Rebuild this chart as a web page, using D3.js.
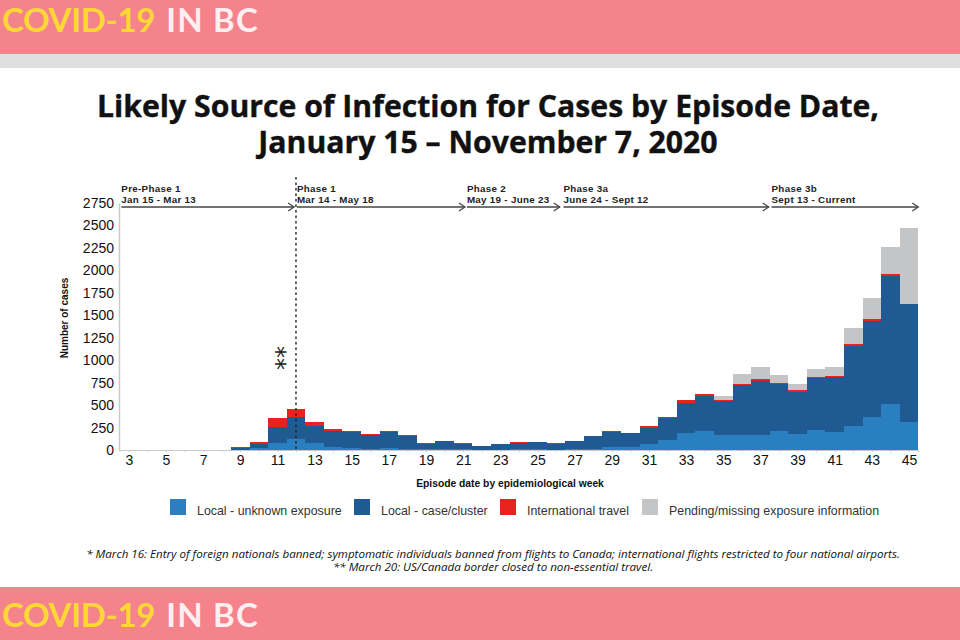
<!DOCTYPE html>
<html>
<head>
<meta charset="utf-8">
<script src="https://cdn.jsdelivr.net/npm/d3@7"></script>
<style>
  html, body { margin: 0; padding: 0; background: #fff; }
  svg { display: block; }
  .axis text { font-family: "Liberation Sans", Arial, sans-serif; font-size: 14px; fill: #111; }
  .axis path, .axis line { stroke: #c9c9c9; }
</style>
</head>
<body>
<script>
// Episode weeks
var weeks = [3,4,5,6,7,8,9,10,11,12,13,14,15,16,17,18,19,20,21,22,23,24,25,26,27,28,29,30,31,32,33,34,35,36,37,38,39,40,41,42,43,44,45];

// Cases per week
var localUnknown = [0,0,1,0,1,0,4,18,74,119,74,37,18,8,18,10,6,8,6,4,5,6,6,5,8,15,30,30,63,111,185,211,167,167,167,211,178,222,204,271,367,508,312];
var localCluster = [0,0,1,0,1,1,14,45,178,245,193,174,186,159,186,150,61,88,57,41,59,76,80,66,92,136,168,155,183,241,334,386,382,556,605,524,471,576,605,890,1069,1433,1309];
var intlTravel = [0,0,1,0,3,1,19,30,100,89,48,26,11,7,11,7,7,8,19,3,3,3,3,3,4,5,10,8,25,12,38,23,11,12,18,15,19,15,15,23,19,14,0];
var pending = [0,0,0,0,0,0,0,0,0,0,0,0,0,0,0,0,0,0,0,0,0,0,0,0,0,0,0,0,0,0,0,0,41,111,130,85,63,89,104,170,233,308,854];

var seriesKeys = ["unknown", "cluster", "travel", "pending"];
var seriesColors = ["#2a7fc1", "#1f5a93", "#e8231f", "#c4c5c7"];
var legendLabels = ["Local - unknown exposure", "Local - case/cluster", "International travel", "Pending/missing exposure information"];

var yTicks = [0,250,500,750,1000,1250,1500,1750,2000,2250,2500,2750];

// Phases, start and end in fractional weeks
var phaseNames = ["Pre-Phase 1", "Phase 1", "Phase 2", "Phase 3a", "Phase 3b"];
var phaseDates = ["Jan 15 - Mar 13", "Mar 14 - May 18", "May 19 - June 23", "June 24 - Sept 12", "Sept 13 - Current"];
var phaseStarts = [2.6, 12.05, 21.2, 26.4, 37.6];
var phaseEnds = [11.9, 21.1, 26.2, 37.45, 45.5];

var titleLines = ["Likely Source of Infection for Cases by Episode Date,", "January 15 \u2013 November 7, 2020"];
var notes = ["* March 16: Entry of foreign nationals banned; symptomatic individuals banned from flights to Canada; international flights restricted to four national airports.",
  "** March 20: US/Canada border closed to non-essential travel."];

var svgWidth = 960;
var svgHeight = 640;

var svg = d3.select("body")
  .append("svg")
  .attr("width", svgWidth)
  .attr("height", svgHeight);

svg.append("rect").attr("width", svgWidth).attr("height", svgHeight).attr("fill", "#fff");

// Banners
svg.append("rect").attr("y", 54).attr("width", svgWidth).attr("height", 14).attr("fill", "#dfdfdf");
[[0, 54, 32], [587, 53, 627]].forEach(function(b) {
  svg.append("rect").attr("y", b[0]).attr("width", svgWidth).attr("height", b[1]).attr("fill", "#f5838c");
  var t = svg.append("text")
    .attr("x", 2)
    .attr("y", b[2])
    .attr("font-family", "Lato, sans-serif")
    .attr("font-weight", 700)
    .attr("font-size", 33)
    .attr("letter-spacing", -0.3);
  t.append("tspan").attr("fill", "#fdd835").text("COVID-19");
  t.append("tspan").attr("fill", "#fdeef0").attr("dx", 11).attr("letter-spacing", 1.2).text("IN BC");
});

// Title
svg.selectAll(".title")
  .data(titleLines)
  .enter()
  .append("text")
  .attr("class", "title")
  .attr("x", 488)
  .attr("y", function(d, i) { return 117 + i * 36; })
  .attr("text-anchor", "middle")
  .attr("font-family", "'Open Sans', sans-serif")
  .attr("font-weight", 700)
  .attr("font-size", 30.2)
  .attr("fill", "#111")
  .attr("stroke", "#111")
  .attr("stroke-width", 0.4)
  .text(function(d) { return d; });

// Scales
var x = d3.scaleLinear().domain([2.5, 45.5]).range([119.5, 918.3]);
var y = d3.scaleLinear().domain([0, 2750]).range([450, 203]);

var table = weeks.map(function(w, i) {
  return { week: w, unknown: localUnknown[i], cluster: localCluster[i], travel: intlTravel[i], pending: pending[i] };
});
var stacked = d3.stack().keys(seriesKeys)(table);

// Stacked bars
svg.selectAll(".layer")
  .data(stacked)
  .enter()
  .append("g")
  .attr("class", "layer")
  .attr("fill", function(d, i) { return seriesColors[i]; })
  .selectAll("rect")
  .data(function(d) { return d; })
  .enter()
  .append("rect")
  .attr("shape-rendering", "crispEdges")
  .attr("x", function(d) { return x(d.data.week - 0.5); })
  .attr("width", function(d) { return x(d.data.week + 0.5) - x(d.data.week - 0.5); })
  .attr("y", function(d) { return y(d[1]); })
  .attr("height", function(d) { return y(d[0]) - y(d[1]); });

// Axes
var xAxis = d3.axisBottom(x)
  .tickValues(weeks)
  .tickSize(2)
  .tickPadding(3)
  .tickFormat(function(w) { return w % 2 == 1 ? w : ""; });
svg.append("g")
  .attr("class", "axis")
  .attr("transform", "translate(0,450)")
  .call(xAxis);

var yAxis = d3.axisLeft(y).tickValues(yTicks).tickSize(0).tickPadding(5).tickFormat(d3.format("d"));
svg.append("g")
  .attr("class", "axis")
  .attr("transform", "translate(119,0)")
  .call(yAxis)
  .select(".domain")
  .attr("stroke-width", 1.5);

// Axis titles
svg.append("text")
  .attr("transform", "translate(68,318) rotate(-90)")
  .attr("text-anchor", "middle")
  .attr("font-family", "Liberation Sans, Arial, sans-serif")
  .attr("font-weight", 700)
  .attr("font-size", 10)
  .attr("fill", "#111")
  .text("Number of cases");

svg.append("text")
  .attr("x", 510)
  .attr("y", 487)
  .attr("text-anchor", "middle")
  .attr("font-family", "Liberation Sans, Arial, sans-serif")
  .attr("font-weight", 700)
  .attr("font-size", 10.3)
  .attr("fill", "#111")
  .text("Episode date by epidemiological week");

// Phase arrows
var phases = svg.selectAll(".phase")
  .data(phaseNames)
  .enter()
  .append("g")
  .attr("class", "phase");

phases.append("line")
  .attr("x1", function(d, i) { return x(phaseStarts[i]); })
  .attr("x2", function(d, i) { return x(phaseEnds[i]); })
  .attr("y1", 207)
  .attr("y2", 207)
  .attr("stroke", "#444")
  .attr("stroke-width", 1.5);

phases.append("path")
  .attr("d", function(d, i) {
    var e = x(phaseEnds[i]);
    return "M" + (e - 6) + ",203 L" + e + ",207 L" + (e - 6) + ",211";
  })
  .attr("fill", "none")
  .attr("stroke", "#444")
  .attr("stroke-width", 1.2);

phases.append("text")
  .attr("x", function(d, i) { return x(phaseStarts[i]); })
  .attr("y", 192)
  .attr("font-family", "Liberation Sans, Arial, sans-serif")
  .attr("font-weight", 700)
  .attr("font-size", 9.8)
  .attr("letter-spacing", 0.3)
  .attr("fill", "#222")
  .text(function(d) { return d; });

phases.append("text")
  .attr("x", function(d, i) { return x(phaseStarts[i]); })
  .attr("y", 203)
  .attr("font-family", "Liberation Sans, Arial, sans-serif")
  .attr("font-weight", 700)
  .attr("font-size", 9.8)
  .attr("letter-spacing", 0.3)
  .attr("fill", "#222")
  .text(function(d, i) { return phaseDates[i]; });

// Dotted marker at week 12
svg.append("line")
  .attr("x1", x(12))
  .attr("x2", x(12))
  .attr("y1", 177)
  .attr("y2", 450)
  .attr("stroke", "#222")
  .attr("stroke-width", 1.4)
  .attr("stroke-dasharray", "2.5 3");

svg.append("text")
  .attr("transform", "translate(293,358) rotate(-90)")
  .attr("text-anchor", "middle")
  .attr("font-family", "DejaVu Sans, sans-serif")
  .attr("font-size", 24)
  .attr("fill", "#222")
  .text("**");

// Legend
var legendBoxX = [170, 354, 500, 642];
var legend = svg.selectAll(".legend")
  .data(legendLabels)
  .enter()
  .append("g")
  .attr("class", "legend");

legend.append("rect")
  .attr("x", function(d, i) { return legendBoxX[i]; })
  .attr("y", 499)
  .attr("width", 16)
  .attr("height", 16)
  .attr("fill", function(d, i) { return seriesColors[i]; });

legend.append("text")
  .attr("x", function(d, i) { return legendBoxX[i] + 27; })
  .attr("y", 515)
  .attr("font-family", "Liberation Sans, Arial, sans-serif")
  .attr("font-size", 12.4)
  .attr("fill", "#333")
  .text(function(d) { return d; });

// Footnotes
svg.selectAll(".note")
  .data(notes)
  .enter()
  .append("text")
  .attr("class", "note")
  .attr("x", 493)
  .attr("y", function(d, i) { return 558 + i * 13; })
  .attr("text-anchor", "middle")
  .attr("font-family", "'Open Sans', sans-serif")
  .attr("font-style", "italic")
  .attr("font-size", 11.6)
  .attr("fill", "#111")
  .text(function(d) { return d; });
</script>
</body>
</html>
